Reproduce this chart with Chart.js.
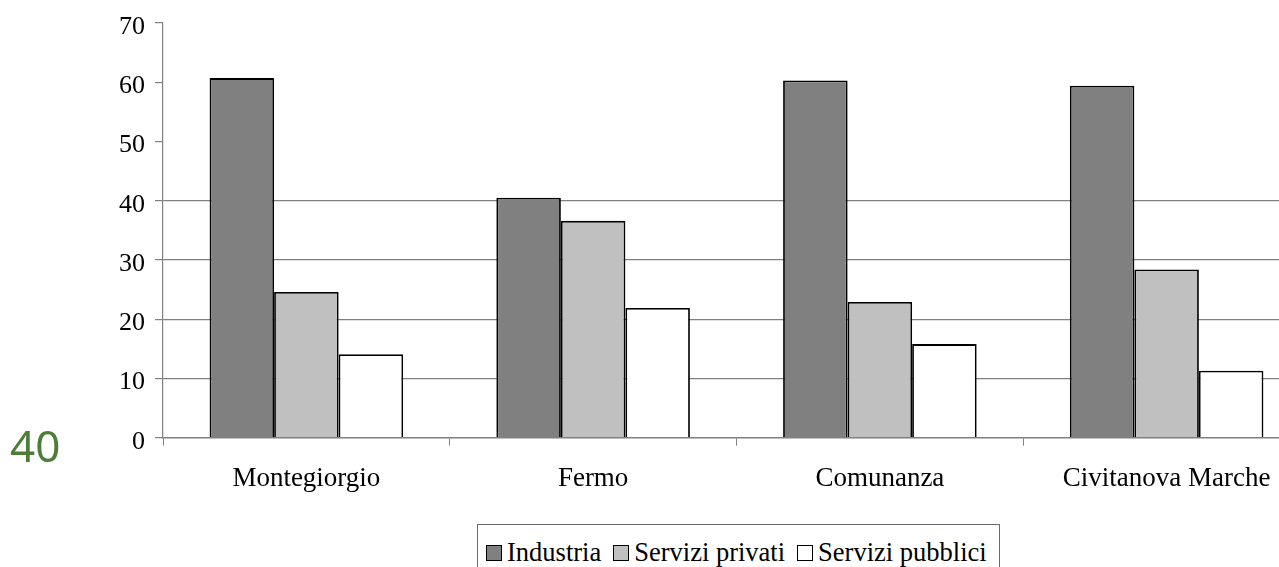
<!DOCTYPE html>
<html>
<head>
<meta charset="utf-8">
<script src="https://cdn.jsdelivr.net/npm/chart.js@4/dist/chart.umd.min.js"></script>
<style>
  html, body { margin: 0; padding: 0; background: #ffffff; width: 1279px; height: 567px; overflow: hidden; }
  #wrap { position: absolute; left: 0; top: 0; width: 1310px; height: 500px; }
  #stray { position: absolute; left: 10px; top: 423px; font-family: "Noto Sans", sans-serif; font-size: 44px; line-height: 1; color: #4e7d3a; }
  #legend { position: absolute; left: 477px; top: 524px; width: 523px; height: 70px; border: 1.5px solid #6a6a6a; box-sizing: border-box;
            font-family: "Liberation Serif", serif; font-size: 26.5px; color: #000; display: flex; align-items: flex-start; padding-left: 8px; padding-top: 12px; }
  .item { display: flex; align-items: center; margin-right: 12px; white-space: nowrap; line-height: 30px; }
  .sw { width: 14px; height: 14px; border: 1.5px solid #000; margin-right: 5px; margin-top: 2px; }
</style>
</head>
<body>
<div id="wrap"><canvas id="c"></canvas></div>
<div id="stray">40</div>
<div id="legend"></div>
<script>
const categories = ['Montegiorgio', 'Fermo', 'Comunanza', 'Civitanova Marche'];
const seriesNames = ['Industria', 'Servizi privati', 'Servizi pubblici'];
const industria = [60.7, 40.5, 60.3, 59.4];
const serviziPrivati = [24.6, 36.6, 22.9, 28.4];
const serviziPubblici = [14.1, 21.9, 15.8, 11.3];
const seriesColors = ['#808080', '#c0c0c0', '#ffffff'];
const yMin = 0, yMax = 70, yStep = 10;

const seriesValues = [industria, serviziPrivati, serviziPubblici];
const datasets = seriesNames.map((name, i) => ({
  label: name,
  data: seriesValues[i],
  backgroundColor: seriesColors[i],
  borderColor: '#000000',
  borderWidth: 1.8,
  barPercentage: 1,
  categoryPercentage: 0.675
}));

new Chart(document.getElementById('c'), {
  type: 'bar',
  data: { labels: categories, datasets },
  options: {
    responsive: true,
    maintainAspectRatio: false,
    devicePixelRatio: 1,
    animation: false,
    layout: { padding: { top: 23, left: 0, right: 0, bottom: 0 } },
    plugins: { legend: { display: false }, tooltip: { enabled: false } },
    scales: {
      x: {
        offset: true,
        grid: { offset: true, drawOnChartArea: false, drawTicks: true, tickLength: 8, tickColor: '#808080', lineWidth: 1 },
        border: { display: true, color: '#808080', width: 1.5 },
        ticks: { color: '#000', font: { family: 'Liberation Serif', size: 27 }, padding: 17, maxRotation: 0, autoSkip: false },
        afterFit: (s) => { s.height = 62.3; }
      },
      y: {
        min: yMin, max: yMax,
        grid: {
          color: (ctx) => (ctx.tick && ctx.tick.value >= 10 && ctx.tick.value <= 40) ? '#808080' : 'rgba(0,0,0,0)',
          tickColor: '#808080', tickLength: 8, lineWidth: 1.2
        },
        border: { display: true, color: '#808080', width: 1.2 },
        ticks: { stepSize: yStep, color: '#000', font: { family: 'Liberation Serif', size: 26, lineHeight: 1 }, padding: 10, labelOffset: 4 },
        afterFit: (s) => { s.width = 163; }
      }
    }
  }
});

const leg = document.getElementById('legend');
seriesNames.forEach((name, i) => {
  const it = document.createElement('div'); it.className = 'item';
  const sw = document.createElement('div'); sw.className = 'sw'; sw.style.background = seriesColors[i];
  const tx = document.createElement('span'); tx.textContent = name;
  it.appendChild(sw); it.appendChild(tx); leg.appendChild(it);
});
</script>
</body>
</html>
